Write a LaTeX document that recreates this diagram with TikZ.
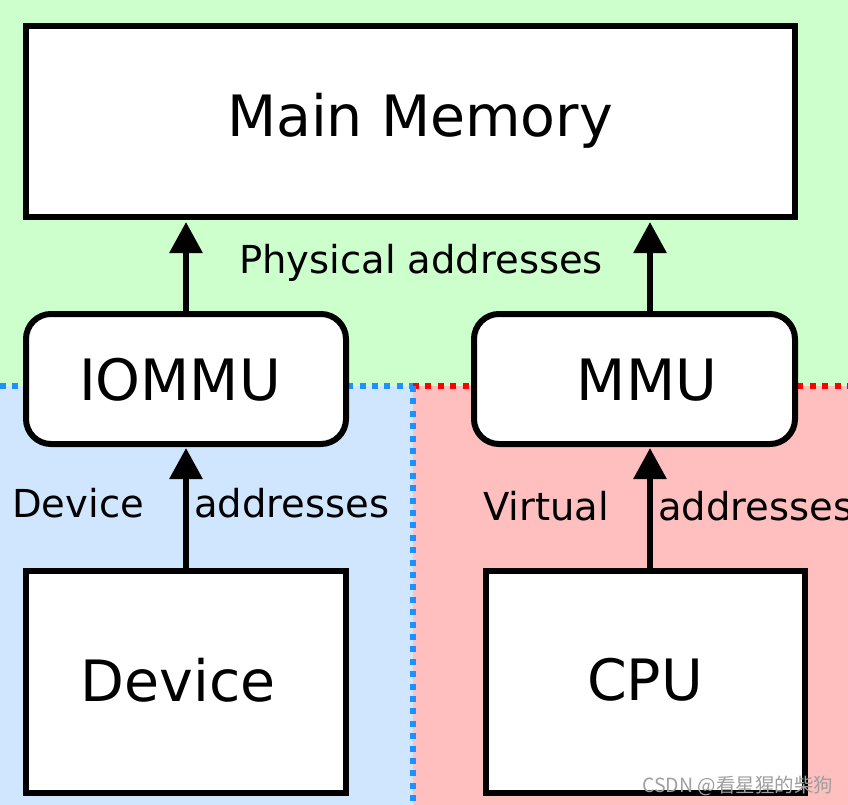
\documentclass[tikz,border=0pt]{standalone}
\usepackage{fontspec}
\setmainfont{DejaVu Sans}
\newfontfamily\cjk{Noto Sans CJK SC}
\usetikzlibrary{arrows.meta}
\definecolor{bggreen}{HTML}{CCFFCC}
\definecolor{bgblue}{HTML}{D0E6FF}
\definecolor{bgred}{HTML}{FFBFBF}
\definecolor{dotblue}{HTML}{1E90FF}
\definecolor{dotred}{HTML}{FF0000}
\begin{document}
\begin{tikzpicture}[x=1pt,y=-1pt,
  box/.style={draw=black,line width=6pt,fill=white},
  rbox/.style={box,rounded corners=25pt},
  bigtxt/.style={font=\fontsize{57}{60}\selectfont},
  lbl/.style={font=\fontsize{38.5}{42}\selectfont,inner sep=0pt},
  arr/.style={line width=6pt,-{Triangle[length=31pt,width=32pt]}},
  sep/.style={line width=6pt,dash pattern=on 6pt off 6.4pt}]
\useasboundingbox (0,0) rectangle (848,805);
% backgrounds
\fill[bggreen] (0,0) rectangle (848,386);
\fill[bgblue] (0,386) rectangle (413,805);
\fill[bgred] (413,386) rectangle (848,805);
% dotted separators
\coordinate (sl) at (0,386);
\coordinate (sm) at (413,386);
\coordinate (sr) at (848,386);
\coordinate (sb) at (413,805);
\draw[sep,dotblue] (sl) -- (sm);
\draw[sep,dotred] (sm) -- (sr);
\draw[sep,dotblue] (sm) -- (sb);
% boxes
\draw[box] (26,26) rectangle (795,217);
\node[bigtxt] (mem) at (420,121) {Main Memory};
\draw[rbox] (26,314) rectangle (346,444);
\node[bigtxt] (iommu) at (180,380) {IOMMU};
\draw[rbox] (474,314) rectangle (795,444);
\node[bigtxt] (mmu) at (647,380) {MMU};
\draw[box] (26,571) rectangle (346,793);
\node[bigtxt] (dev) at (178,680) {Device};
\draw[box] (486,571) rectangle (805,793);
\node[bigtxt] (cpu) at (645,680) {CPU};
% connector anchors
\coordinate (iommuT) at (186,312);
\coordinate (iommuB) at (186,448);
\coordinate (mmuT) at (650,312);
\coordinate (mmuB) at (650,448);
\coordinate (devT) at (186,569);
\coordinate (cpuT) at (650,569);
\coordinate (memBL) at (186,222);
\coordinate (memBR) at (650,222);
\draw[arr] (devT) -- (iommuB);
\draw[arr] (cpuT) -- (mmuB);
\draw[arr] (iommuT) -- (memBL);
\draw[arr] (mmuT) -- (memBR);
% labels
\node[lbl] (phys) at (421,263) {Physical addresses};
\node[lbl,anchor=west] (devl) at (12,503) {Device};
\node[lbl,anchor=west] (deva) at (194,503) {addresses};
\node[lbl,anchor=west] (virl) at (483,506) {Virtual};
\node[lbl,anchor=west] (vira) at (658,506) {addresses};
% watermark
\node[font=\cjk\fontsize{19.5}{22}\selectfont,text=gray!75,inner sep=0pt,anchor=west] (wm) at (642,786) {CSDN @看星猩的柴狗};
\end{tikzpicture}
\end{document}
